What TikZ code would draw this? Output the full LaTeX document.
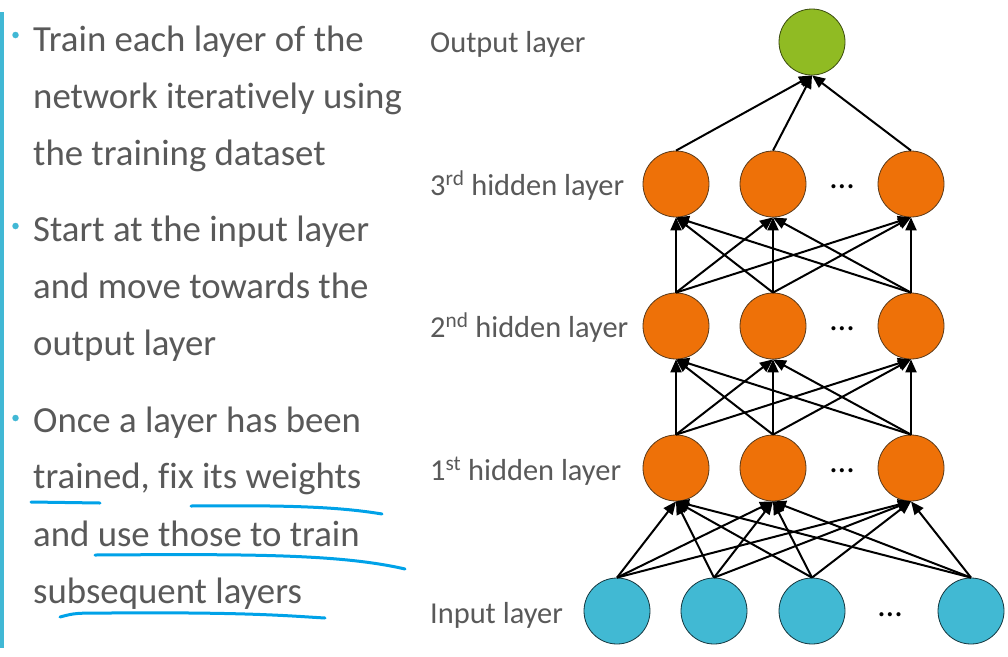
\documentclass[tikz,border=0pt]{standalone}
\usepackage{fontspec}
\setmainfont{Carlito}[Ligatures=CommonOff]
\usetikzlibrary{arrows.meta}
\definecolor{txt}{HTML}{595959}
\definecolor{barc}{HTML}{41B8D5}
\definecolor{ink}{HTML}{00A2E8}
\definecolor{orng}{HTML}{EE7108}
\definecolor{cyn}{HTML}{41B9D3}
\definecolor{grn}{HTML}{90BB23}
\definecolor{brd}{HTML}{5A3A1A}
\tikzset{
  neuron/.style={circle, minimum size=66pt, inner sep=0pt, draw=brd, line width=0.8pt},
  hid/.style={neuron, fill=orng},
  inp/.style={neuron, fill=cyn, draw=black!70!cyn},
  outn/.style={neuron, fill=grn, draw=black!60!grn},
  edge/.style={line width=2pt, -{Triangle[length=13pt,width=11pt]}},
  bul/.style={font=\fontsize{36.8}{40}\selectfont, text=txt, anchor=base west, inner sep=0pt},
  lab/.style={font=\fontsize{30.4}{33}\selectfont, text=txt, anchor=base west, inner sep=0pt},
  ddots/.style={font=\fontsize{34}{36}\selectfont, inner sep=0pt},
  bdot/.style={circle, fill=barc, inner sep=0pt, minimum size=6.5pt},
  uline/.style={draw=ink, line width=3pt, line cap=round, line join=round}
}
\begin{document}
\begin{tikzpicture}[x=1pt,y=-1pt]
\fill[white] (0,0) rectangle (1008,656);
\useasboundingbox (0,0) rectangle (1008,656);
% left bar
\fill[barc] (0,12) rectangle (4,648);
% bullets
\node[bdot] (b1) at (15.5,35) {};
\node[bdot] (b2) at (15.5,226) {};
\node[bdot] (b3) at (15.5,418) {};
\node[bul] (t1) at (33,51) {Train each layer of the};
\node[bul] (t2) at (33,108) {network iteratively using};
\node[bul] (t3) at (33,165) {the training dataset};
\node[bul] (t4) at (33,241) {Start at the input layer};
\node[bul] (t5) at (33,298) {and move towards the};
\node[bul] (t6) at (33,355) {output layer};
\node[bul] (t7) at (33,432) {Once a layer has been};
\node[bul] (t8) at (33,488) {trained, fix its weights};
\node[bul] (t9) at (33,546) {and use those to train};
\node[bul] (t10) at (33,603) {subsequent layers};
% handwritten underlines
\draw[uline] (31,502) -- (100,503);
\draw[uline] (191,506) .. controls (290,505) and (340,507) .. (382,514);
\draw[uline] (95,555) .. controls (250,554) and (340,554) .. (405,569);
\draw[uline] (60,617) .. controls (75,613) .. (110,613) .. controls (250,612) and (290,616) .. (325,618);
% layer labels
\node[lab] (lo) at (430,52) {Output layer};
\node[lab] (l3) at (430,195) {3\textsuperscript{rd} hidden layer};
\node[lab] (l2) at (430,337) {2\textsuperscript{nd} hidden layer};
\node[lab] (l1) at (430,480) {1\textsuperscript{st} hidden layer};
\node[lab] (li) at (430,623) {Input layer};
% neurons
\node[outn] (out) at (812,42) {};
\node[hid] (h3a) at (676,184) {};
\node[hid] (h3b) at (773,184) {};
\node[hid] (h3c) at (911,184) {};
\node[hid] (h2a) at (676,326) {};
\node[hid] (h2b) at (773,326) {};
\node[hid] (h2c) at (911,326) {};
\node[hid] (h1a) at (676,468) {};
\node[hid] (h1b) at (773,468) {};
\node[hid] (h1c) at (911,468) {};
\node[inp] (in1) at (617,611) {};
\node[inp] (in2) at (714,611) {};
\node[inp] (in3) at (812,611) {};
\node[inp] (in4) at (971,611) {};
\node[ddots] (d3) at (842,187) {…};
\node[ddots] (d2) at (842,329) {…};
\node[ddots] (d1) at (842,471) {…};
\node[ddots] (d0) at (890,615) {…};
% connections
\foreach \a in {in1,in2,in3,in4}
  \foreach \b in {h1a,h1b,h1c}
    \draw[edge] (\a.north) -- (\b.south);
\foreach \a in {h1a,h1b,h1c}
  \foreach \b in {h2a,h2b,h2c}
    \draw[edge] (\a.north) -- (\b.south);
\foreach \a in {h2a,h2b,h2c}
  \foreach \b in {h3a,h3b,h3c}
    \draw[edge] (\a.north) -- (\b.south);
\foreach \a in {h3a,h3b,h3c}
  \draw[edge] (\a.north) -- (out.south);
\end{tikzpicture}
\end{document}
